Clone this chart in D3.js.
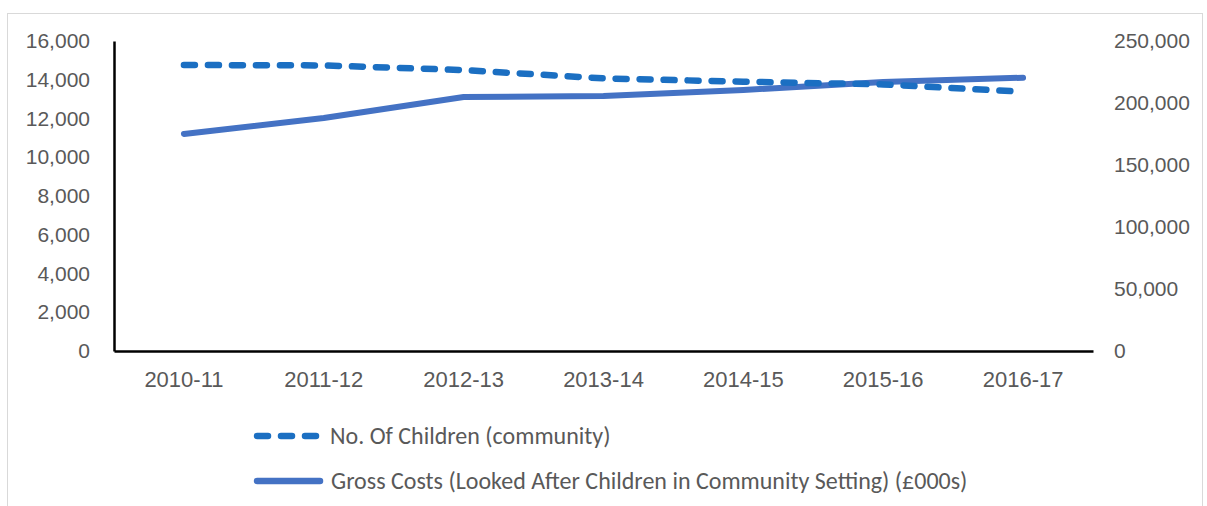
<!DOCTYPE html>
<html>
<head>
<meta charset="utf-8">
<script src="https://cdn.jsdelivr.net/npm/d3@7"></script>
<style>
  html, body { margin: 0; padding: 0; background: #fff; }
  svg { display: block; font-family: Carlito, Calibri, "Open Sans", sans-serif; }
</style>
</head>
<body>
<svg id="chart" width="1207" height="506"></svg>
<script>
// Financial years on the category axis
const years = ["2010-11", "2011-12", "2012-13", "2013-14", "2014-15", "2015-16", "2016-17"];
// Number of looked-after children placed in community settings (left axis)
const childrenCount = [14760, 14740, 14500, 14070, 13900, 13760, 13380];
// Gross costs, £000s (right axis)
const grossCosts = [175000, 187900, 204800, 205600, 210500, 217000, 220400];
// Axis tick values
const leftTicks = [0, 2000, 4000, 6000, 8000, 10000, 12000, 14000, 16000];
const rightTicks = [0, 50000, 100000, 150000, 200000, 250000];
const seriesNames = ["No. Of Children (community)", "Gross Costs (Looked After Children in Community Setting) (£000s)"];

const svg = d3.select("#chart");
const textColor = "#595959";
const dashColor = "#1b6fc2";
const solidColor = "#4472c4";

// Outer frame
svg.append("rect")
  .attr("x", 7.5).attr("y", 13.5).attr("width", 1195).attr("height", 500)
  .attr("fill", "none").attr("stroke", "#d9d9d9").attr("stroke-width", 1);

const plot = { left: 114, right: 1093, top: 41, bottom: 351 };

const x = d3.scaleBand().domain(years).range([plot.left, plot.right]).padding(0);
const yLeft = d3.scaleLinear().domain([0, 16000]).range([plot.bottom, plot.top]);
const yRight = d3.scaleLinear().domain([0, 250000]).range([plot.bottom, plot.top]);
const fmt = d3.format(",");

// Left axis
const gL = svg.append("g").attr("transform", `translate(${plot.left},0)`)
  .call(d3.axisLeft(yLeft).tickValues(leftTicks).tickFormat(fmt).tickSize(0).tickPadding(24));
gL.select(".domain").attr("stroke", "#000").attr("stroke-width", 2.5);
gL.selectAll("text").attr("fill", textColor).style("font-size", "21px").style("font-family", null);

// Right axis (labels only)
const gR = svg.append("g").attr("transform", `translate(${plot.right},0)`)
  .call(d3.axisRight(yRight).tickValues(rightTicks).tickFormat(fmt).tickSize(0).tickPadding(21));
gR.select(".domain").remove();
gR.selectAll("text").attr("fill", textColor).style("font-size", "21px").style("font-family", null);

// Category axis
const gX = svg.append("g").attr("transform", `translate(0,${plot.bottom})`)
  .call(d3.axisBottom(x).tickSize(0).tickPadding(20));
gX.select(".domain").attr("stroke", "#000").attr("stroke-width", 2.5);
gX.selectAll("text").attr("fill", textColor).style("font-size", "22px").style("font-family", null);

const cx = d => x(d) + x.bandwidth() / 2;

// Gross costs line
svg.append("path")
  .datum(grossCosts)
  .attr("fill", "none").attr("stroke", solidColor).attr("stroke-width", 6)
  .attr("stroke-linecap", "round").attr("stroke-linejoin", "round")
  .attr("d", d3.line().x((d, i) => cx(years[i])).y(d => yRight(d)));

// Children count line (dashed)
svg.append("path")
  .datum(childrenCount)
  .attr("fill", "none").attr("stroke", dashColor).attr("stroke-width", 6.5)
  .attr("stroke-linecap", "round").attr("stroke-linejoin", "round")
  .attr("stroke-dasharray", "11,13")
  .attr("d", d3.line().x((d, i) => cx(years[i])).y(d => yLeft(d)));

// Legend
const legend = svg.append("g");
const legendRows = [
  { name: seriesNames[0], y: 436, color: dashColor, dash: "11,13", textX: 330 },
  { name: seriesNames[1], y: 481, color: solidColor, dash: null, textX: 331 }
];
legendRows.forEach(r => {
  legend.append("line")
    .attr("x1", 257).attr("x2", 320).attr("y1", r.y).attr("y2", r.y)
    .attr("stroke", r.color).attr("stroke-width", 6.5)
    .attr("stroke-linecap", "round")
    .attr("stroke-dasharray", r.dash);
  legend.append("text")
    .attr("x", r.textX).attr("y", r.y).attr("dy", "0.35em")
    .attr("fill", textColor).style("font-size", "24px")
    .text(r.name);
});
</script>
</body>
</html>
